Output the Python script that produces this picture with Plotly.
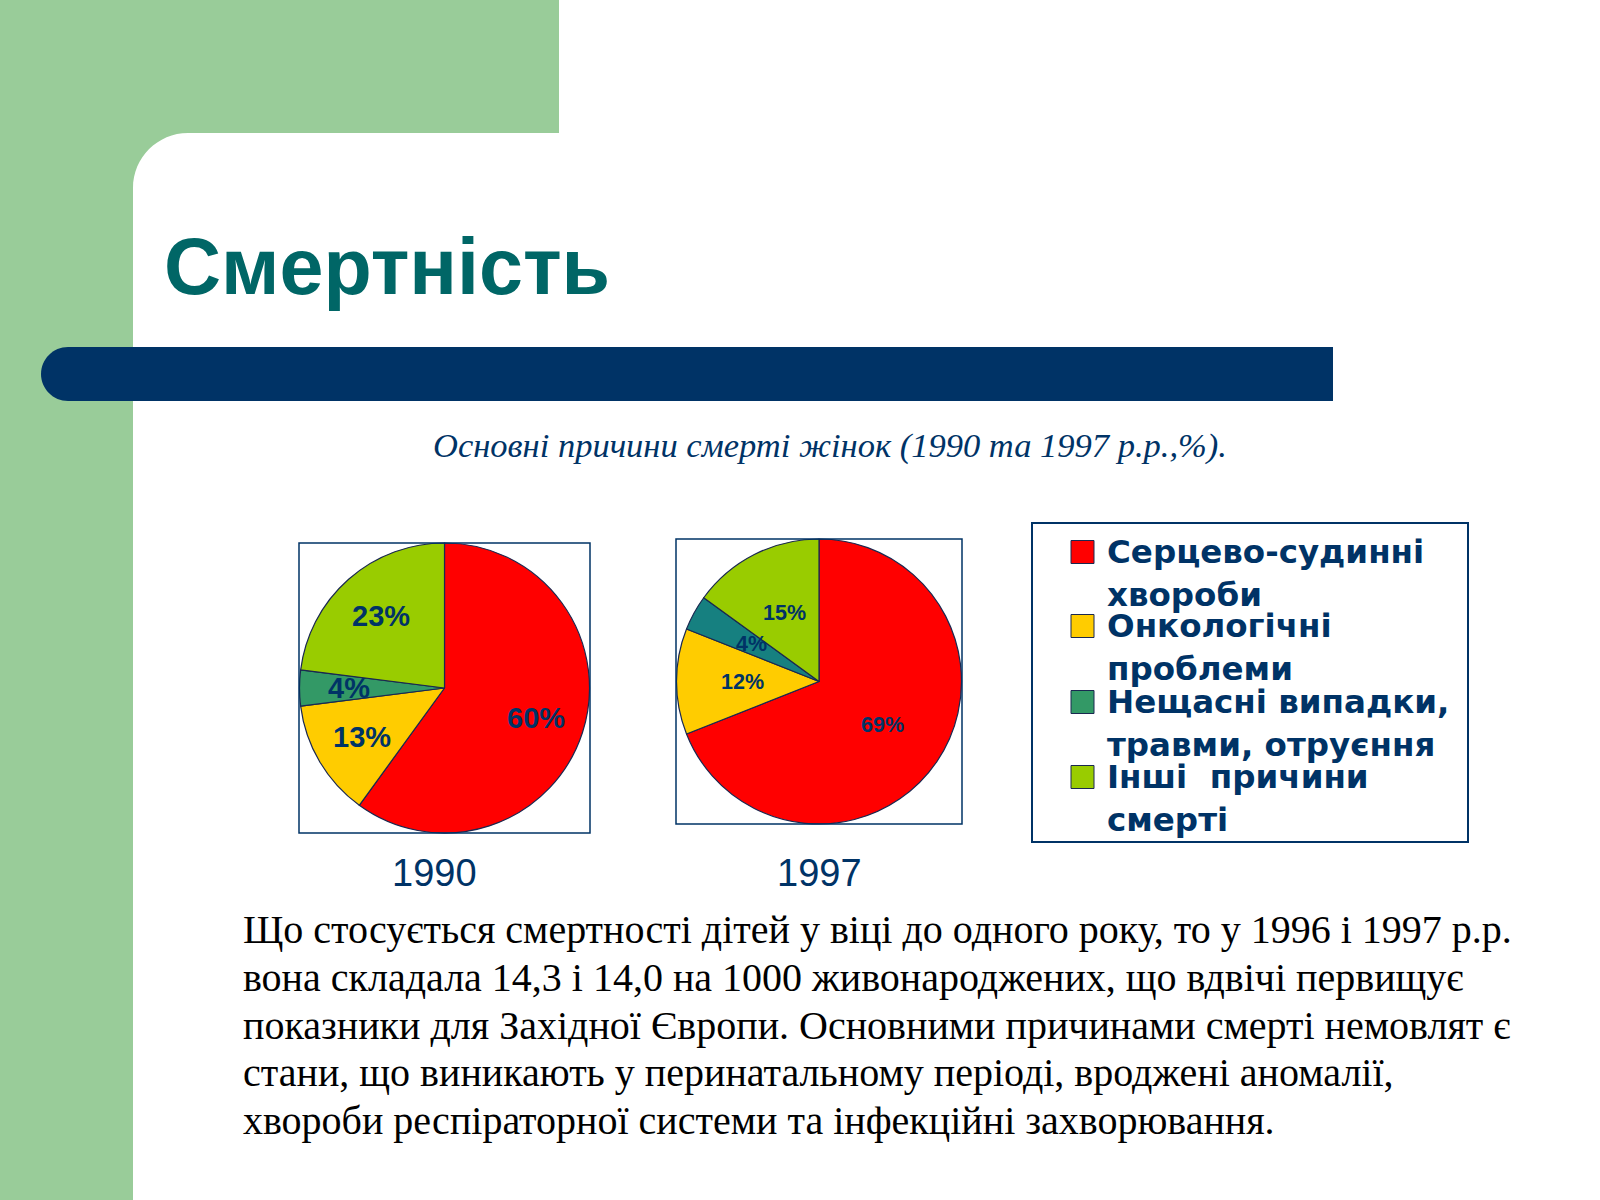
import math
import plotly.graph_objects as go

W, H = 1600, 1200

# ---------------- data ----------------
categories = ["Серцево-судинні хвороби", "Онкологічні проблеми",
              "Нещасні випадки, травми, отруєння", "Інші причини смерті"]
legend_lines = [["Серцево-судинні", "хвороби"],
                ["Онкологічні", "проблеми"],
                ["Нещасні випадки,", "травми, отруєння"],
                ["Інші\u00a0 причини", "смерті"]]
years = ["1990", "1997"]
values_1990 = [60, 13, 4, 23]
values_1997 = [69, 12, 4, 15]
colors_1990 = ["#FF0000", "#FFCC00", "#339966", "#99CC00"]
colors_1997 = ["#FF0000", "#FFCC00", "#168080", "#99CC00"]
legend_colors = ["#FF0000", "#FFCC00", "#339966", "#99CC00"]

title_text = "Смертність"
subtitle_text = "Основні причини смерті жінок (1990 та 1997 р.р.,%)."
body_lines = [
    "Що стосується смертності дітей у віці до одного року, то у 1996 і 1997 р.р.",
    "вона складала 14,3 і 14,0 на 1000 живонароджених, що вдвічі первищує",
    "показники для Західної Європи. Основними причинами смерті немовлят є",
    "стани, що виникають у перинатальному періоді, вроджені аномалії,",
    "хвороби респіраторної системи та інфекційні захворювання.",
]

NAVY = "#003366"
GREEN_BG = "#99CC99"
TEAL = "#006666"


def X(px):
    return px / W


def Y(py):
    return 1 - py / H


fig = go.Figure()
shapes = []
annotations = []

# ---------------- background decoration ----------------
shapes.append(dict(type="rect", xref="paper", yref="paper", x0=X(0), x1=X(559), y0=Y(133), y1=Y(0),
                   fillcolor=GREEN_BG, line=dict(width=0), layer="below"))
shapes.append(dict(type="rect", xref="paper", yref="paper", x0=X(0), x1=X(133), y0=Y(1200), y1=Y(0),
                   fillcolor=GREEN_BG, line=dict(width=0), layer="below"))
# rounded corner of white panel
R = 55
k = 0.5523 * R
cx0, cy0 = 133, 133
corner = (f"M {X(cx0)},{Y(cy0)} L {X(cx0 + R)},{Y(cy0)} "
          f"C {X(cx0 + R - k)},{Y(cy0)} {X(cx0)},{Y(cy0 + R - k)} {X(cx0)},{Y(cy0 + R)} Z")
shapes.append(dict(type="path", xref="paper", yref="paper", path=corner,
                   fillcolor=GREEN_BG, line=dict(width=0), layer="below"))

# navy bar with rounded left end
bx0, bx1, by0, by1 = 41, 1333, 347, 401
br = (by1 - by0) / 2
bk = 0.5523 * br
bar = (f"M {X(bx0 + br)},{Y(by0)} L {X(bx1)},{Y(by0)} L {X(bx1)},{Y(by1)} L {X(bx0 + br)},{Y(by1)} "
       f"C {X(bx0 + br - bk)},{Y(by1)} {X(bx0)},{Y(by1 - br + bk)} {X(bx0)},{Y(by1 - br)} "
       f"C {X(bx0)},{Y(by0 + br - bk)} {X(bx0 + br - bk)},{Y(by0)} {X(bx0 + br)},{Y(by0)} Z")
shapes.append(dict(type="path", xref="paper", yref="paper", path=bar,
                   fillcolor=NAVY, line=dict(width=0), layer="below"))

# ---------------- titles ----------------
annotations.append(dict(text=f"<b>{title_text}</b>", xref="paper", yref="paper", x=X(162), y=Y(266),
                        xanchor="left", yanchor="middle", showarrow=False,
                        font=dict(family="Liberation Sans, Arial", size=79, color=TEAL)))
annotations.append(dict(text=f"<i>{subtitle_text}</i>", xref="paper", yref="paper", x=X(830), y=Y(446),
                        xanchor="center", yanchor="middle", showarrow=False,
                        font=dict(family="Liberation Serif, Times New Roman", size=34.5, color=NAVY)))

# ---------------- pies ----------------
pies = [
    dict(year=years[0], values=values_1990, colors=colors_1990, box=(299, 543, 590, 833),
         lab_frac=0.66, lab_size=29, year_x=435),
    dict(year=years[1], values=values_1997, colors=colors_1997, box=(676, 539, 962, 824),
         lab_frac=0.54, lab_size=21.5, year_x=820),
]

for p in pies:
    x0, y0, x1, y1 = p["box"]
    fig.add_trace(go.Pie(
        labels=categories, values=p["values"], sort=False, direction="clockwise", rotation=0,
        marker=dict(colors=p["colors"], line=dict(color="#1A2850", width=1.2)),
        textinfo="none", showlegend=False, hole=0,
        domain=dict(x=[X(x0), X(x1)], y=[Y(y1), Y(y0)]),
        name=p["year"],
    ))
    shapes.append(dict(type="rect", xref="paper", yref="paper", x0=X(x0), x1=X(x1), y0=Y(y1), y1=Y(y0),
                       line=dict(color=NAVY, width=1.5), fillcolor="rgba(0,0,0,0)", layer="above"))
    # percentage labels placed along slice bisectors
    cx, cy = (x0 + x1) / 2, (y0 + y1) / 2
    r = min(x1 - x0, y1 - y0) / 2
    total = sum(p["values"])
    cum = 0
    for v in p["values"]:
        mid = (cum + v / 2) / total * 2 * math.pi
        cum += v
        lx = cx + p["lab_frac"] * r * math.sin(mid)
        ly = cy - p["lab_frac"] * r * math.cos(mid)
        annotations.append(dict(text=f"<b>{round(v / total * 100)}%</b>", xref="paper", yref="paper",
                                x=X(lx), y=Y(ly), xanchor="center", yanchor="middle", showarrow=False,
                                font=dict(family="Liberation Sans, Arial", size=p["lab_size"], color=NAVY)))
    annotations.append(dict(text=p["year"], xref="paper", yref="paper", x=X(p["year_x"]), y=Y(873),
                            xanchor="center", yanchor="middle", showarrow=False,
                            font=dict(family="Liberation Sans, Arial", size=38, color=NAVY)))

# ---------------- legend ----------------
shapes.append(dict(type="rect", xref="paper", yref="paper", x0=X(1032), x1=X(1468), y0=Y(842), y1=Y(523),
                   line=dict(color=NAVY, width=2), fillcolor="white", layer="below"))
item_y = [552, 626, 702, 777]
for i, (lines, col) in enumerate(zip(legend_lines, legend_colors)):
    yy = item_y[i]
    shapes.append(dict(type="rect", xref="paper", yref="paper", x0=X(1071), x1=X(1094),
                       y0=Y(yy + 11.5), y1=Y(yy - 11.5), fillcolor=col,
                       line=dict(color="#1A2850", width=1), layer="above"))
    for j, ln in enumerate(lines):
        annotations.append(dict(text=f"<b>{ln}</b>", xref="paper", yref="paper", x=X(1105), y=Y(yy + 43 * j),
                                xanchor="left", yanchor="middle", showarrow=False,
                                font=dict(family="DejaVu Sans", size=32.5, color=NAVY)))

# ---------------- body text ----------------
body_y = [929, 977, 1025, 1072, 1120]
for ln, yy in zip(body_lines, body_y):
    annotations.append(dict(text=ln, xref="paper", yref="paper", x=X(241), y=Y(yy),
                            xanchor="left", yanchor="middle", showarrow=False,
                            font=dict(family="Liberation Serif, Times New Roman", size=40, color="black")))

fig.update_layout(
    width=W, height=H, margin=dict(l=0, r=0, t=0, b=0),
    paper_bgcolor="white", plot_bgcolor="white",
    shapes=shapes, annotations=annotations, showlegend=False,
)

fig.write_html("out.html")
